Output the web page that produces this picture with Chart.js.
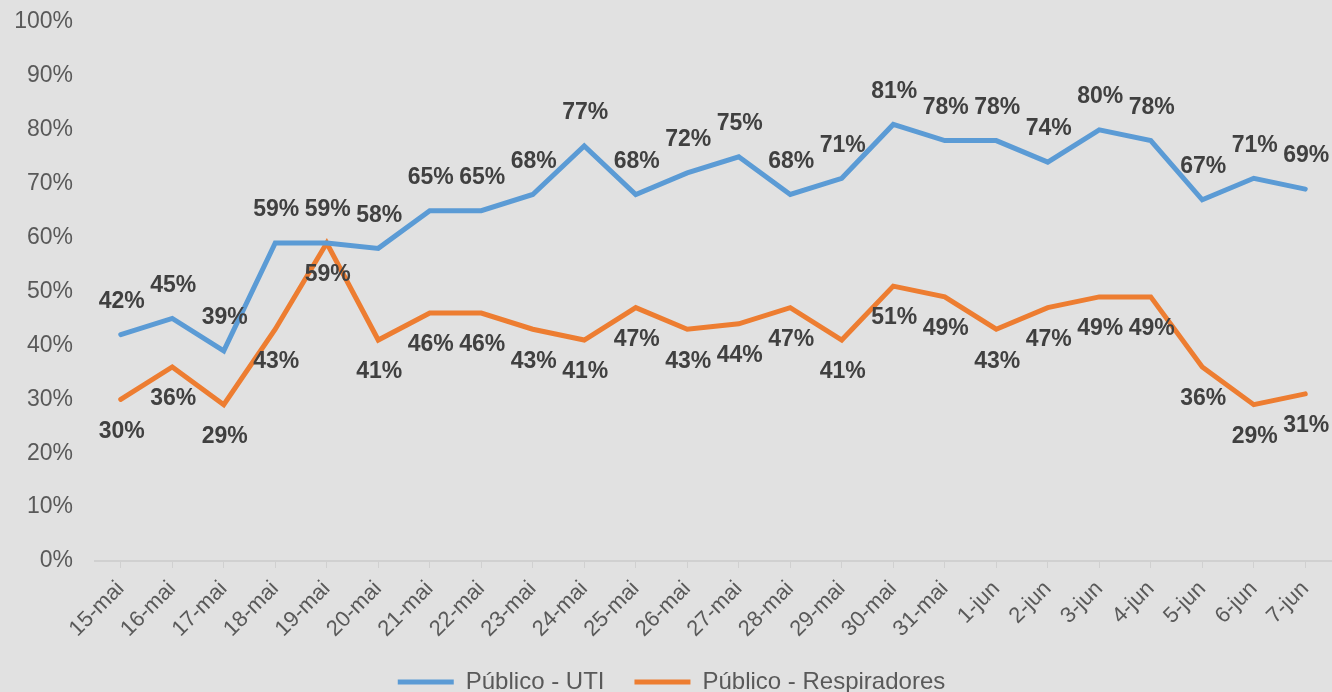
<!DOCTYPE html>
<html>
<head>
<meta charset="utf-8">
<script src="https://cdn.jsdelivr.net/npm/chart.js@4/dist/chart.umd.min.js"></script>
<style>
  html, body { margin: 0; padding: 0; background: #e1e1e1; }
  #box { width: 1332px; height: 692px; }
</style>
</head>
<body>
<div id="box"><canvas id="myChart"></canvas></div>
<script>
// Datas (eixo X)
const dias = ["15-mai", "16-mai", "17-mai", "18-mai", "19-mai", "20-mai", "21-mai", "22-mai",
  "23-mai", "24-mai", "25-mai", "26-mai", "27-mai", "28-mai", "29-mai", "30-mai", "31-mai",
  "1-jun", "2-jun", "3-jun", "4-jun", "5-jun", "6-jun", "7-jun"];

// Ocupação em %
const publicoUti = [42, 45, 39, 59, 59, 58, 65, 65, 68, 77, 68, 72, 75, 68, 71, 81, 78, 78, 74, 80, 78, 67, 71, 69];
const publicoResp = [30, 36, 29, 43, 59, 41, 46, 46, 43, 41, 47, 43, 44, 47, 41, 51, 49, 43, 47, 49, 49, 36, 29, 31];

const FONTE = "'Liberation Sans', Arial, sans-serif";

// petit plugin pour ecrire les valeurs au-dessus / en dessous des points
const etiquettes = {
  id: "etiquettes",
  afterDatasetsDraw(chart) {
    const ctx = chart.ctx;
    ctx.save();
    ctx.font = "bold 23px " + FONTE;
    ctx.fillStyle = "#404040";
    ctx.textAlign = "center";
    ctx.textBaseline = "middle";
    chart.data.datasets.forEach((ds, i) => {
      const meta = chart.getDatasetMeta(i);
      meta.data.forEach((pt, j) => {
        ctx.fillText(ds.data[j] + "%", pt.x + 1, pt.y + ds.decalage);
      });
    });
    ctx.restore();
  },
};

const data = {
  labels: dias,
  datasets: [
    {
      label: "Público - UTI",
      data: publicoUti,
      borderColor: "#5b9bd5",
      backgroundColor: "#5b9bd5",
      borderWidth: 5,
      borderCapStyle: "round",
      pointRadius: 0,
      decalage: -33,
    },
    {
      label: "Público - Respiradores",
      data: publicoResp,
      borderColor: "#ed7d31",
      backgroundColor: "#ed7d31",
      borderWidth: 5,
      borderCapStyle: "round",
      pointRadius: 0,
      decalage: 32,
    },
  ],
};

const config = {
  type: "line",
  data: data,
  plugins: [etiquettes],
  options: {
    responsive: true,
    maintainAspectRatio: false,
    animation: false,
    layout: {
      padding: { top: 22, left: 12, right: 1, bottom: -12 },
    },
    plugins: {
      legend: {
        position: "bottom",
        labels: {
          usePointStyle: true,
          pointStyle: "line",
          pointStyleWidth: 56,
          padding: 30,
          color: "#595959",
          font: { family: FONTE, size: 24 },
        },
      },
      tooltip: { enabled: false },
    },
    scales: {
      x: {
        offset: true,
        grid: {
          drawOnChartArea: false,
          drawTicks: true,
          tickLength: 7,
          color: "#d0d0d0",
        },
        border: { display: true, color: "#d0d0d0", width: 2 },
        ticks: {
          color: "#595959",
          font: { family: FONTE, size: 22 },
          maxRotation: 45,
          minRotation: 45,
          padding: 8,
          autoSkip: false,
        },
        afterFit(scale) {
          scale.height = 79;
        },
      },
      y: {
        min: 0,
        max: 100,
        grid: { display: false, drawTicks: false },
        border: { display: false },
        ticks: {
          stepSize: 10,
          color: "#595959",
          font: { family: FONTE, size: 23 },
          padding: 22,
          callback: (v) => v + "%",
        },
        afterFit(scale) {
          scale.width = 83;
          scale.paddingTop = 0;
          scale.paddingBottom = 0;
        },
      },
    },
  },
};

const context = document.getElementById("myChart").getContext("2d");
const chart = new Chart(context, config);
</script>
</body>
</html>
